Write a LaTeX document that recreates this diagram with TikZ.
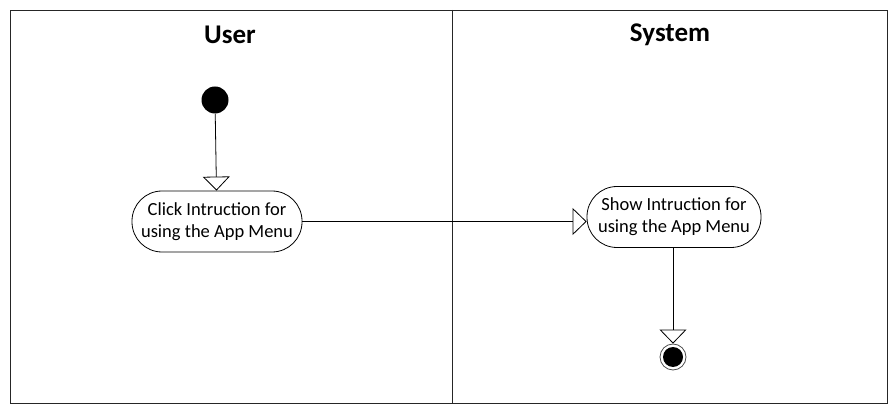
\documentclass[tikz,border=0pt]{standalone}
\usepackage{fontspec}
\setmainfont{Carlito}
\usetikzlibrary{arrows.meta}
\begin{document}
\begin{tikzpicture}[x=1pt,y=-1pt,
  lane/.style={draw=black!85, line width=0.9pt},
  title/.style={font=\fontsize{27}{30}\selectfont\bfseries},
  act/.style={draw, line width=0.8pt, rounded corners=30pt, minimum width=170pt, minimum height=61pt, align=center, font=\fontsize{18.5}{22}\selectfont, inner sep=2pt},
  flow/.style={draw, line width=0.8pt, -{Triangle[open, length=14pt, width=27pt]}},
  startnode/.style={circle, fill=black, minimum size=27pt, inner sep=0pt},
  endnode/.style={circle, draw=black!70, line width=0.8pt, fill=white, minimum size=26pt, inner sep=0pt, path picture={\fill[black] (path picture bounding box.center) circle (10pt);}}
]
\useasboundingbox (0,0) rectangle (895,406);
\draw[lane] (10,10) rectangle (887,403);
\draw[lane] (452,10) -- (452,403);
\node[title] (tu) at (230,35) {User};
\node[title] (ts) at (670,35) {System};
\node[startnode] (s) at (215,100) {};
\node[act] (a1) at (217,221.5) {Click Intruction for\\using the App Menu};
\node[act, minimum width=174pt] (a2) at (674,217) {Show Intruction for\\using the App Menu};
\node[endnode] (e) at (673,357) {};
\draw[flow] (s) -- (a1);
\draw[flow] (a1.east) -- (a1.east -| a2.west);
\draw[flow] (a2.south -| e) -- (e);
\end{tikzpicture}
\end{document}
